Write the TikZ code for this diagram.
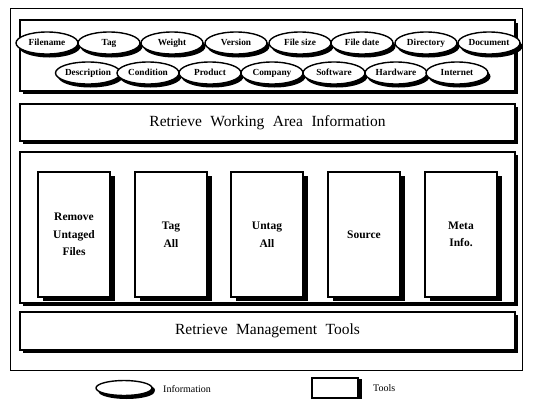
\documentclass[tikz,border=0pt]{standalone}
\usepackage{fontspec}
\setmainfont{Liberation Serif}
\usetikzlibrary{shapes.geometric,shadows}
\tikzset{
  panel/.style={draw=black, line width=1.3pt, fill=white, rectangle, inner sep=0pt,
    drop shadow={shadow xshift=3pt, shadow yshift=-3pt, fill=black, opacity=1}},
  titletext/.style={font=\fontsize{15.5}{18}\selectfont},
  toolbox/.style={draw=black, line width=1.3pt, fill=white, rectangle, inner sep=0pt,
    minimum width=72pt, minimum height=125pt, align=center,
    font=\bfseries\fontsize{11.5}{17.5}\selectfont,
    drop shadow={shadow xshift=5pt, shadow yshift=-4pt, fill=black, opacity=1}},
  info/.style={draw=black, line width=1.4pt, fill=white, ellipse, inner sep=0pt,
    minimum width=62pt, minimum height=22pt, font=\bfseries\fontsize{9.3}{10}\selectfont,
    text height=1.5ex, text depth=0.35ex,
    drop shadow={shadow xshift=2.5pt, shadow yshift=-3.5pt, fill=black, opacity=1}},
  legendtext/.style={anchor=west, font=\fontsize{10}{11}\selectfont, inner sep=0pt}
}
\begin{document}
\begin{tikzpicture}[x=1pt,y=-1pt]
\useasboundingbox (0,0) rectangle (533,407);
% outer frame
\node[draw=black, line width=0.8pt, rectangle, inner sep=0pt, minimum width=512pt, minimum height=362pt] (frame) at (266,189) {};
% information panel
\node[panel, minimum width=495pt, minimum height=71pt] (infopanel) at (267.5,55.5) {};
\foreach \n/\t/\x in {f1/Filename/47, f2/Tag/109, f3/Weight/172, f4/Version/236, f5/File size/300, f6/File date/362, f7/Directory/426, f8/Document/489}{
  \node[info] (\n) at (\x,43) {\t};
}
\foreach \n/\t/\x in {g1/Description/88, g2/Condition/148, g3/Product/210, g4/Company/272, g5/Software/334, g6/Hardware/396, g7/Internet/457}{
  \node[info] (\n) at (\x,73) {\t};
}
% retrieve working area
\node[panel, minimum width=495pt, minimum height=37pt, titletext] (rwa) at (267.5,122.5) {Retrieve\hspace{0.55em}Working\hspace{0.55em}Area\hspace{0.55em}Information};
% tools panel
\node[panel, minimum width=495pt, minimum height=151pt] (toolspanel) at (267.5,227.5) {};
\node[toolbox] (t1) at (74,234.5) {Remove\\Untaged\\Files};
\node[toolbox] (t2) at (171,234.5) {Tag\\All};
\node[toolbox] (t3) at (267,234.5) {Untag\\All};
\node[toolbox] (t4) at (364,234.5) {Source};
\node[toolbox] (t5) at (461,234.5) {Meta\\Info.};
% retrieve management tools
\node[panel, minimum width=495pt, minimum height=38pt, titletext] (rmt) at (267.5,331) {Retrieve\hspace{0.55em}Management\hspace{0.55em}Tools};
% legend
\node[info, minimum width=56pt, minimum height=15pt, drop shadow={shadow xshift=3pt, shadow yshift=-2pt, fill=black, opacity=1}] (legell) at (124,388) {};
\node[legendtext] (leginfo) at (163,389) {Information};
\node[draw=black, line width=1.1pt, fill=white, rectangle, inner sep=0pt, minimum width=46pt, minimum height=20pt,
  drop shadow={shadow xshift=4pt, shadow yshift=-1pt, fill=black, opacity=1}] (legrect) at (335,388) {};
\node[legendtext] (legtools) at (373,388) {Tools};
\end{tikzpicture}
\end{document}
